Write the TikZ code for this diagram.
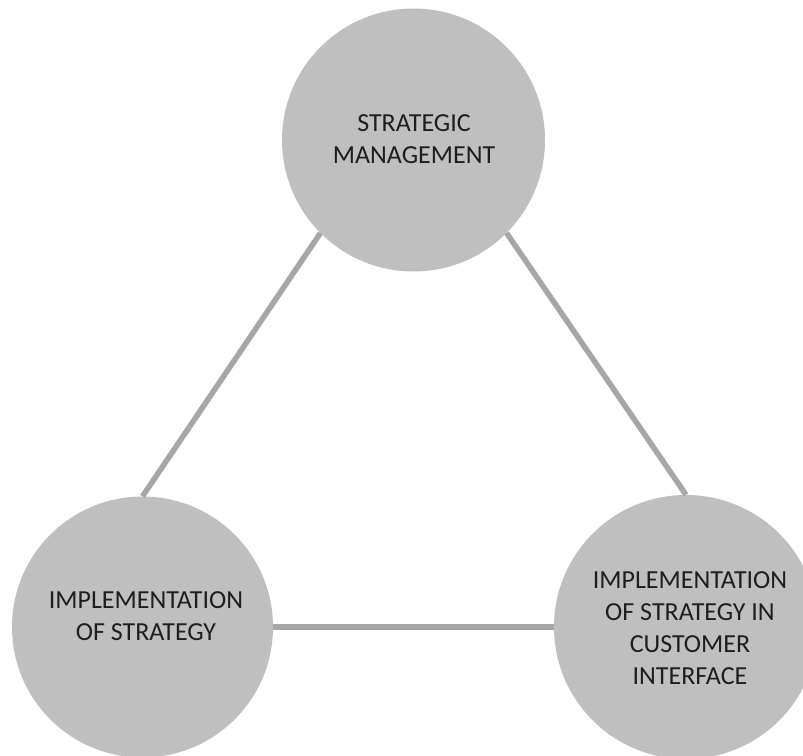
\documentclass[tikz,border=0pt]{standalone}
\usepackage{fontspec}
\setmainfont{Carlito}
\definecolor{discfill}{HTML}{BFBFBF}
\definecolor{linkgray}{HTML}{A6A6A6}
\definecolor{labeltext}{HTML}{1E1E1E}
\begin{document}
\begin{tikzpicture}[x=1pt,y=-1pt,
  disc/.style={circle,fill=discfill,draw=none,inner sep=0pt,minimum size=#1},
  link/.style={draw=linkgray,line width=5.5pt},
  caption/.style={align=center,text=labeltext,inner sep=0pt,
    font=\fontsize{26}{31.8}\selectfont}]
\useasboundingbox (0,0) rectangle (803,755);
\fill[white] (0,0) rectangle (803,755);
% three discs
\node[disc=263pt] (top) at (413.5,140) {};
\node[disc=261pt] (left) at (142.5,627) {};
\node[disc=264pt] (right) at (686,627) {};
% connectors between the discs
\draw[link] (top.-135) -- (left.north);
\draw[link] (top.-45) -- (right.north);
\draw[link] (left.east) -- (right.west);
% labels
\node[caption] (topText) at (414,139) {STRATEGIC\\MANAGEMENT};
\node[caption] (leftText) at (146,616.5) {IMPLEMENTATION\\OF STRATEGY};
\node[caption] (rightText) at (690,628) {IMPLEMENTATION\\OF STRATEGY IN\\CUSTOMER\\INTERFACE};
\end{tikzpicture}
\end{document}
